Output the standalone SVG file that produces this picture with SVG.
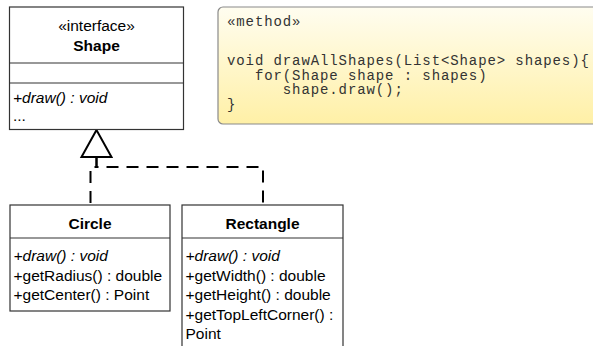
<svg xmlns="http://www.w3.org/2000/svg" width="593" height="346" viewBox="0 0 593 346">
<defs>
<linearGradient id="noteFill" x1="0" y1="0" x2="0" y2="1">
<stop offset="0" stop-color="#fffdf0"/>
<stop offset="1" stop-color="#fff0a6"/>
</linearGradient>
</defs>
<style>
.box{fill:#ffffff;stroke:#333333;stroke-width:1.2}
.div{stroke:#333333;stroke-width:1.2;fill:none}
.t{font-family:"Liberation Sans",Arial,Helvetica,sans-serif;font-size:15.5px;fill:#000000}
.c{text-anchor:middle}
.b{font-weight:bold}
.i{font-style:italic}
.mono{font-family:"Liberation Mono","Courier New",monospace;font-size:14px;letter-spacing:0.9px;fill:#333333;white-space:pre}
.edge{fill:none;stroke:#000000;stroke-width:2;stroke-dasharray:12 8}
.tri{fill:#ffffff;stroke:#000000;stroke-width:2}
</style>
<rect x="0" y="0" width="593" height="346" fill="#ffffff"/>
<g id="connectors">
<path class="edge" d="M96.5,157 V167 H90.5 V205"/>
<path class="edge" d="M96.5,157 V167 H263 V205"/>
<polygon class="tri" points="96.5,130 81.5,157 111.5,157"/>
</g>
<g id="shape">
<rect class="box" x="9.5" y="7" width="174" height="122.5"/>
<line class="div" x1="9.5" y1="63" x2="183.5" y2="63"/>
<line class="div" x1="9.5" y1="83" x2="183.5" y2="83"/>
<text class="t c" x="96.5" y="31">«interface»</text>
<text class="t c b" x="96.5" y="51">Shape</text>
<text class="t i" x="13" y="103">+draw() : void</text>
<text class="t" x="13" y="121">...</text>
</g>
<g id="note">
<rect x="218" y="7" width="390" height="117" rx="5" ry="5" fill="url(#noteFill)" stroke="#8a8a8a" stroke-width="1.2"/>
<text class="mono" x="227" y="26">«method»</text>
<text class="mono" x="227" y="65">void drawAllShapes(List&lt;Shape&gt; shapes){</text>
<text class="mono" x="227" y="79.5">   for(Shape shape : shapes)</text>
<text class="mono" x="227" y="94">      shape.draw();</text>
<text class="mono" x="227" y="108.5">}</text>
</g>
<g id="circle">
<rect class="box" x="10" y="205" width="160" height="106"/>
<line class="div" x1="10" y1="238" x2="170" y2="238"/>
<text class="t c b" x="90" y="229">Circle</text>
<text class="t i" x="13.5" y="261">+draw() : void</text>
<text class="t" x="13.5" y="280.5">+getRadius() : double</text>
<text class="t" x="13.5" y="300">+getCenter() : Point</text>
</g>
<g id="rectangle">
<rect class="box" x="182" y="205" width="161" height="160"/>
<line class="div" x1="182" y1="238" x2="343" y2="238"/>
<text class="t c b" x="262.5" y="229">Rectangle</text>
<text class="t i" x="185.5" y="261">+draw() : void</text>
<text class="t" x="185.5" y="280.5">+getWidth() : double</text>
<text class="t" x="185.5" y="300">+getHeight() : double</text>
<text class="t" x="185.5" y="319.5">+getTopLeftCorner() :</text>
<text class="t" x="185.5" y="339">Point</text>
</g>
</svg>
